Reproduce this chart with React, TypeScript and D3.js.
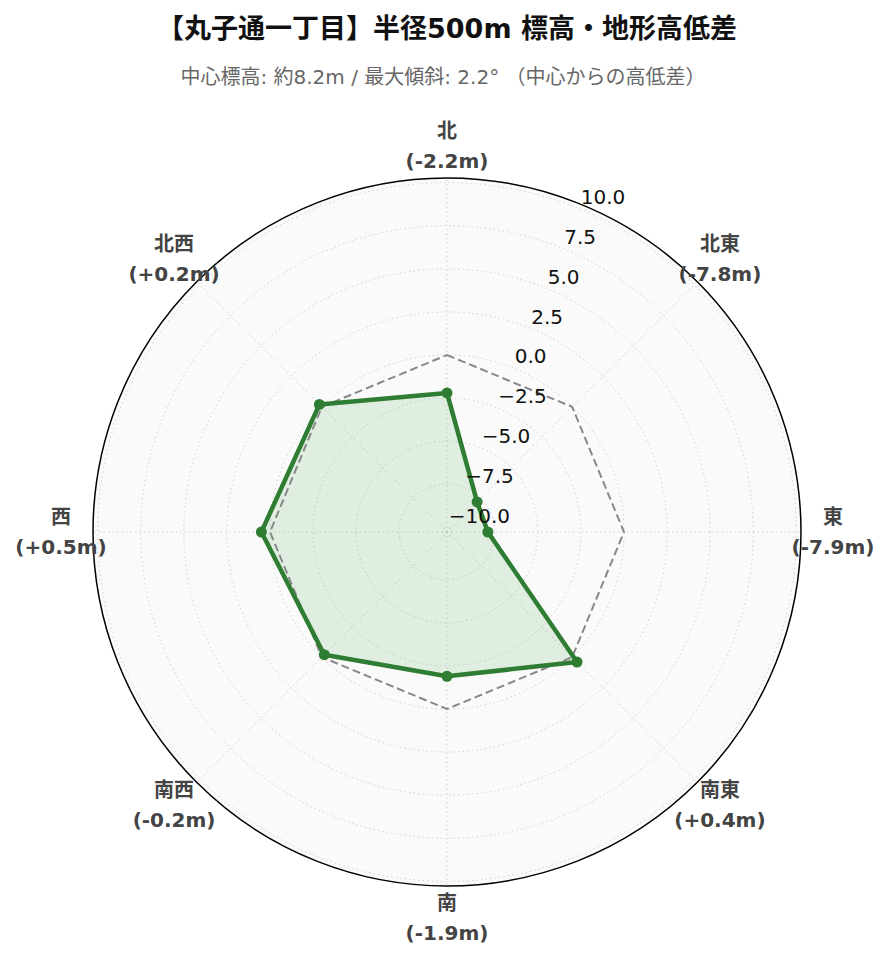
import React from "react";
import * as d3 from "d3";

const directions = ["北", "北東", "東", "南東", "南", "南西", "西", "北西"];
const diffs = [-2.2, -7.8, -7.9, 0.4, -1.9, -0.2, 0.5, 0.2];
const referenceValues = [0, 0, 0, 0, 0, 0, 0, 0];
const radialTicks = [-10, -7.5, -5, -2.5, 0, 2.5, 5, 7.5, 10];
const radialDomain = [-10.27, 10.27];
const titleText = "【丸子通一丁目】半径500m 標高・地形高低差";
const subtitleText = "中心標高: 約8.2m / 最大傾斜: 2.2° （中心からの高低差）";

const W = 889;
const H = 962;
const cx = 447;
const cy = 532;
const R = 354;
const FONT = '"DejaVu Sans", "Noto Sans CJK JP", sans-serif';

export default function App() {
  const r = d3.scaleLinear().domain(radialDomain).range([0, R]);
  const angle = (i: number) => (i * 2 * Math.PI) / directions.length;
  const pt = (i: number, rad: number) => [
    cx + rad * Math.sin(angle(i)),
    cy - rad * Math.cos(angle(i)),
  ];
  const line = d3
    .lineRadial<number>()
    .angle((_, i) => angle(i))
    .radius((d) => r(d))
    .curve(d3.curveLinearClosed);

  const rlabelAngle = Math.PI / 8;
  const fmt = d3.format(".1f");
  const fmtTick = (v: number) => fmt(v).replace("-", "\u2212");
  const fmtDiff = (v: number) => `(${v > 0 ? "+" : ""}${v.toFixed(1)}m)`;

  return (
    <svg
      width={W}
      height={H}
      style={{ position: "absolute", left: 0, top: 0, background: "#fff" }}
      fontFamily={FONT}
    >
      <text x={447} y={28} textAnchor="middle" dominantBaseline="central" fontSize={27} fontWeight="bold" fill="#111">
        {titleText}
      </text>
      <text x={443} y={77} textAnchor="middle" dominantBaseline="central" fontSize={20} fill="#666">
        {subtitleText}
      </text>

      <circle cx={cx} cy={cy} r={R} fill="#fafafa" />
      {radialTicks.map((t) => (
        <circle key={t} cx={cx} cy={cy} r={r(t)} fill="none" stroke="#cfcfcf" strokeWidth={1} strokeDasharray="1.5,3" />
      ))}
      {directions.map((_, i) => {
        const [x, y] = pt(i, R);
        return <line key={i} x1={cx} y1={cy} x2={x} y2={y} stroke="#cfcfcf" strokeWidth={1} strokeDasharray="1.5,3" />;
      })}
      <circle cx={cx} cy={cy} r={R} fill="none" stroke="#000" strokeWidth={1.5} />

      <g transform={`translate(${cx},${cy})`}>
        <path d={line(diffs) || ""} fill="#4caf50" fillOpacity={0.15} stroke="none" />
        <path d={line(referenceValues) || ""} fill="none" stroke="#888" strokeWidth={2} strokeDasharray="8,4" />
        <path d={line(diffs) || ""} fill="none" stroke="#2e7d32" strokeWidth={4.5} strokeLinejoin="round" />
      </g>
      {diffs.map((v, i) => {
        const [x, y] = pt(i, r(v));
        return <circle key={i} cx={x} cy={y} r={5.5} fill="#2e7d32" />;
      })}

      {radialTicks.map((t) => {
        const x = cx + r(t) * Math.sin(rlabelAngle);
        const y = cy - r(t) * Math.cos(rlabelAngle);
        return (
          <text key={t} x={x} y={y - 12} dominantBaseline="central" fontSize={20} fill="#111">
            {fmtTick(t)}
          </text>
        );
      })}

      {directions.map((d, i) => {
        const [x, y] = pt(i, 386);
        return (
          <g key={d}>
            <text x={x} y={y - 15} textAnchor="middle" dominantBaseline="central" fontSize={20} fontWeight="bold" fill="#444">
              {d}
            </text>
            <text x={x} y={y + 15} textAnchor="middle" dominantBaseline="central" fontSize={20} fontWeight="bold" fill="#444">
              {fmtDiff(diffs[i])}
            </text>
          </g>
        );
      })}
    </svg>
  );
}
